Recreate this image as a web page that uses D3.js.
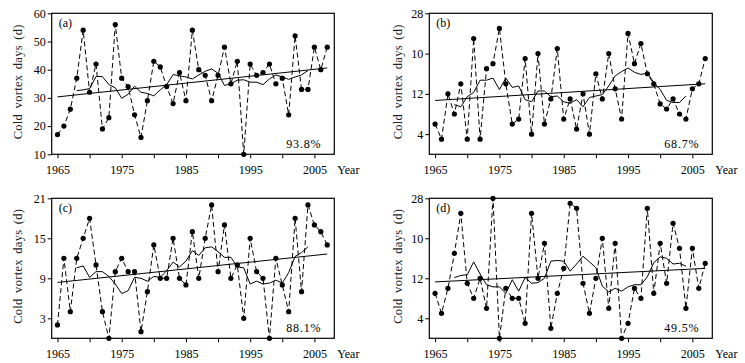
<!DOCTYPE html>
<html>
<head>
<meta charset="utf-8">
<script src="https://cdn.jsdelivr.net/npm/d3@7"></script>
<style>
  html, body { margin: 0; padding: 0; background: #fff; }
  svg { display: block; font-family: "Liberation Serif", "DejaVu Serif", serif; }
</style>
</head>
<body>
<svg id="chart" width="745" height="363"></svg>
<script>
// ---- data ----
const years = d3.range(1965, 2008);
const valuesA = [17,20,26,37,54,32,42,19,23,56,37,34,24,16,29,43,41,34,28,39,29,54,40,38,29,38,48,35,43,10,42,38,39,42,35,37,24,52,33,33,48,40,48];
const valuesB = [6,3,12,8,14,3,23,3,17,18,25,14,6,7,19,4,20,6,11,21,7,11,5,12,4,16,11,20,13,7,24,18,22,16,14,10,9,11,8,7,13,14,19];
const valuesC = [2,12,4,12,15,18,11,4,0,10,12,10,10,1,7,14,9,9,15,9,8,16,9,15,20,10,17,9,11,3,15,10,9,0,12,8,4,18,7,20,17,16,14];
const valuesD = [9,5,10,17,25,11,8,12,6,28,0,10,8,8,3,25,12,19,2,9,14,27,26,11,5,12,20,6,19,0,3,10,8,26,9,19,11,23,18,6,18,10,15];

const panelLabels = ["(a)", "(b)", "(c)", "(d)"];
const percentLabels = ["93.8%", "68.7%", "88.1%", "49.5%"];
const yTicksA = [10, 20, 30, 40, 50, 60];
const yTickLabelsA = ["10", "20", "30", "40", "50", "60"];
const yTicksB = [4, 12, 20, 28];
const yTickLabelsB = ["4", "12", "10", "28"];
const yTicksC = [3, 9, 15, 21];
const yTickLabelsC = ["3", "9", "15", "21"];
const yDomains = [[10, 60], [0, 28], [0, 21], [0, 28]];
const xTickYears = [1965, 1970, 1975, 1980, 1985, 1990, 1995, 2000, 2005];
const xTickLabelYears = [1965, 1975, 1985, 1995, 2005];
const yTitle = "Cold vortex days (d)";
const xTitle = "Year";
const runWindow = 7;

// ---- layout ----
const panels = [
  { vals: valuesA, ticks: yTicksA, tickLabels: yTickLabelsA, dom: yDomains[0], x0: 51.7, x1: 334.3, y0: 13.3, y1: 154.3, titleX: 18 },
  { vals: valuesB, ticks: yTicksB, tickLabels: yTickLabelsB, dom: yDomains[1], x0: 429.3, x1: 712.3, y0: 13.3, y1: 154.3, titleX: 398 },
  { vals: valuesC, ticks: yTicksC, tickLabels: yTickLabelsC, dom: yDomains[2], x0: 51.7, x1: 334.3, y0: 198.3, y1: 338.3, titleX: 18 },
  { vals: valuesD, ticks: yTicksB, tickLabels: yTickLabelsB, dom: yDomains[3], x0: 429.3, x1: 712.3, y0: 198.3, y1: 338.3, titleX: 398 }
];

const svg = d3.select("#chart");

function runningMean(vals, w) {
  const h = Math.floor(w / 2);
  const out = [];
  for (let i = h; i < vals.length - h; i++) {
    out.push({ year: years[i], v: d3.mean(vals.slice(i - h, i + h + 1)) });
  }
  return out;
}
function linFit(vals) {
  const mx = d3.mean(years), my = d3.mean(vals);
  let sxy = 0, sxx = 0;
  years.forEach((y, i) => { sxy += (y - mx) * (vals[i] - my); sxx += (y - mx) * (y - mx); });
  const b = sxy / sxx;
  return yr => my + b * (yr - mx);
}

panels.forEach((p, idx) => {
  const x = d3.scaleLinear().domain([1964.1, 2008.1]).range([p.x0, p.x1]);
  const y = d3.scaleLinear().domain(p.dom).range([p.y1, p.y0]);
  const g = svg.append("g");

  // x axis
  const xAxis = d3.axisBottom(x).tickValues(xTickYears).tickSize(4)
    .tickFormat(d => xTickLabelYears.includes(d) ? String(d) : "");
  const gx = g.append("g").attr("transform", `translate(0,${p.y1})`).call(xAxis);
  gx.select(".domain").remove();
  gx.selectAll("text").attr("font-size", 12).attr("dy", "1.05em").attr("fill", "#000")
    .attr("font-family", "Liberation Serif");
  gx.selectAll("line").attr("stroke", "#000");

  // y axis
  const yAxis = d3.axisLeft(y).tickValues(p.ticks).tickSize(4)
    .tickFormat((d, i) => p.tickLabels[i]);
  const gy = g.append("g").attr("transform", `translate(${p.x0},0)`).call(yAxis);
  gy.select(".domain").remove();
  gy.selectAll("text").attr("font-size", 12).attr("fill", "#000").attr("x", -6)
    .attr("font-family", "Liberation Serif");
  gy.selectAll("line").attr("stroke", "#000");

  // frame
  g.append("rect").attr("x", p.x0).attr("y", p.y0)
    .attr("width", p.x1 - p.x0).attr("height", p.y1 - p.y0)
    .attr("fill", "none").attr("stroke", "#000").attr("stroke-width", 1.2);

  // trend line
  const fit = linFit(p.vals);
  g.append("line")
    .attr("x1", x(1965)).attr("y1", y(fit(1965)))
    .attr("x2", x(2007)).attr("y2", y(fit(2007)))
    .attr("stroke", "#000").attr("stroke-width", 1);

  // running mean
  const rm = runningMean(p.vals, runWindow);
  g.append("path").datum(rm)
    .attr("d", d3.line().x(d => x(d.year)).y(d => y(d.v)))
    .attr("fill", "none").attr("stroke", "#000").attr("stroke-width", 1);

  // dashed series
  const pts = years.map((yr, i) => ({ year: yr, v: p.vals[i] }));
  g.append("path").datum(pts)
    .attr("d", d3.line().x(d => x(d.year)).y(d => y(d.v)))
    .attr("fill", "none").attr("stroke", "#000").attr("stroke-width", 1)
    .attr("stroke-dasharray", "5,3");
  g.selectAll("circle.pt").data(pts).enter().append("circle")
    .attr("class", "pt")
    .attr("cx", d => x(d.year)).attr("cy", d => y(d.v)).attr("r", 2.6)
    .attr("fill", "#000");

  // panel label
  g.append("text").attr("x", p.x0 + 7).attr("y", p.y0 + 14)
    .attr("font-size", 12).text(panelLabels[idx]);

  // percent
  g.append("text").attr("x", p.x1 - 13).attr("y", p.y1 - 6)
    .attr("text-anchor", "end").attr("font-size", 12).attr("letter-spacing", "0.8px")
    .text(percentLabels[idx]);

  // Year label
  g.append("text").attr("x", p.x1 + 3).attr("y", p.y1 + 20)
    .attr("font-size", 12).text(xTitle);

  // y title
  const cy = (p.y0 + p.y1) / 2 - 2;
  g.append("text")
    .attr("transform", `translate(${p.titleX + 4},${cy}) rotate(-90)`)
    .attr("text-anchor", "middle").attr("font-size", 12.5)
    .attr("letter-spacing", "0.3px").attr("word-spacing", "2px")
    .attr("fill", "#222")
    .text(yTitle);
});
</script>
</body>
</html>
